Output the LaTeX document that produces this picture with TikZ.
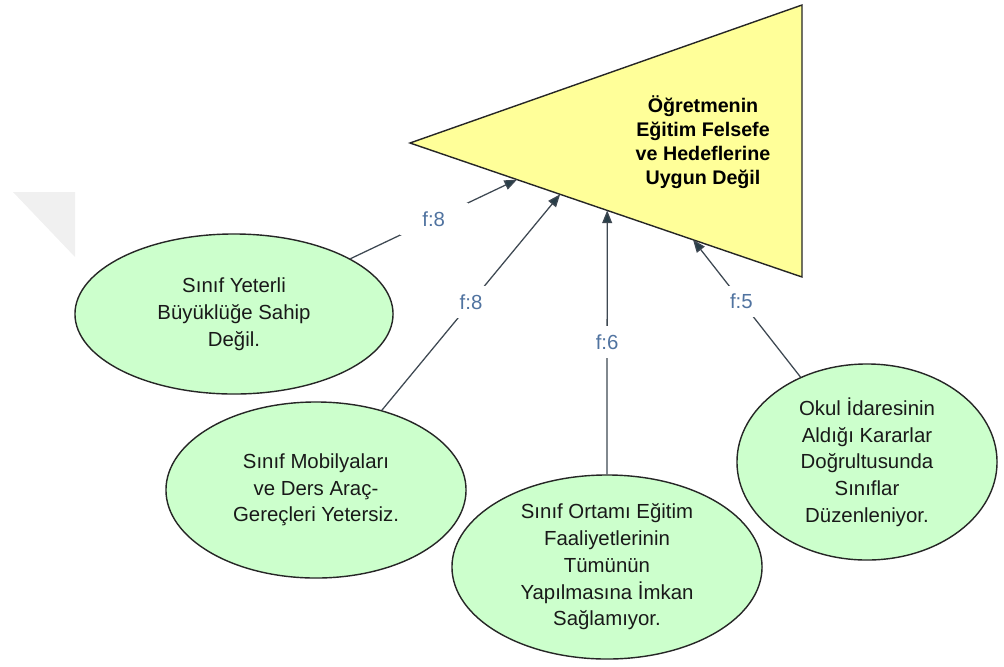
\documentclass[tikz,border=0pt]{standalone}
\usepackage{fontspec}
\setmainfont{Liberation Sans}
\usetikzlibrary{shapes.geometric}
\usetikzlibrary{arrows.meta}
\usetikzlibrary{calc}

\definecolor{tricol}{RGB}{255,255,153}
\definecolor{ellcol}{RGB}{204,255,204}
\definecolor{linecol}{RGB}{62,72,82}
\definecolor{tipcol}{RGB}{40,62,72}
\definecolor{fcol}{RGB}{80,115,160}
\definecolor{wmcol}{RGB}{240,240,240}

\begin{document}
\begin{tikzpicture}[x=0.025cm, y=-0.025cm,
    reason/.style={draw=black!85, fill=ellcol, ellipse, line width=1pt, inner sep=0pt, align=center, text=black!90, font={\fontsize{14.5}{19}\selectfont}},
    link/.style={draw=linecol, line width=0.9pt, -{Triangle[length=9pt,width=7pt,fill=tipcol]}},
    flabel/.style={fill=white, text=fcol, inner xsep=16pt, inner ysep=6pt, font={\fontsize{14.5}{17}\selectfont}}]
        \useasboundingbox (0,0) rectangle (1004,666);
        %watermark
        \fill[wmcol] (13,192) -- (75,192) -- (75,257) -- cycle;

        %triangle
        \coordinate (tA) at (410,143);
        \coordinate (tB) at (802,5);
        \coordinate (tC) at (802,277);
        \draw[fill=tricol, draw=black!85, line width=1pt] (tA) -- (tB) -- (tC) -- cycle;
        \node[align=center, font={\bfseries\fontsize{14}{17}\selectfont}] (goal) at (703,142) {Öğretmenin\\Eğitim Felsefe\\ve Hedeflerine\\Uygun Değil};

        %arrow ends on the triangle
        \coordinate (t1) at ($(tA)!0.273!(tC)$);
        \coordinate (t2) at ($(tA)!0.383!(tC)$);
        \coordinate (t3) at ($(tA)!0.503!(tC)$);
        \coordinate (t4) at ($(tA)!0.722!(tC)$);

        %ellipses
        \node[reason, minimum width=7.95cm, minimum height=4cm] (e1) at (234,314) {Sınıf Yeterli\\Büyüklüğe Sahip\\Değil.};
        \node[reason, minimum width=7.5cm, minimum height=4.4cm] (e2) at (316,490) {Sınıf Mobilyaları\\ve Ders Araç-\\Gereçleri Yetersiz.};
        \node[reason, minimum width=7.75cm, minimum height=4.6cm] (e3) at (607,567) {Sınıf Ortamı Eğitim\\Faaliyetlerinin\\Tümünün\\Yapılmasına İmkan\\Sağlamıyor.};
        \node[reason, minimum width=6.5cm, minimum height=4.9cm] (e4) at (867,462) {Okul İdaresinin\\Aldığı Kararlar\\Doğrultusunda\\Sınıflar\\Düzenleniyor.};

        \draw[link] (e1) -- node[flabel] {f:8} (t1);
        \draw[link] (e2) -- node[flabel] {f:8} (t2);
        \draw[link] (e3) -- node[flabel] {f:6} (t3);
        \draw[link] (e4) -- node[flabel, pos=0.55] {f:5} (t4);
    \end{tikzpicture}
\end{document}
